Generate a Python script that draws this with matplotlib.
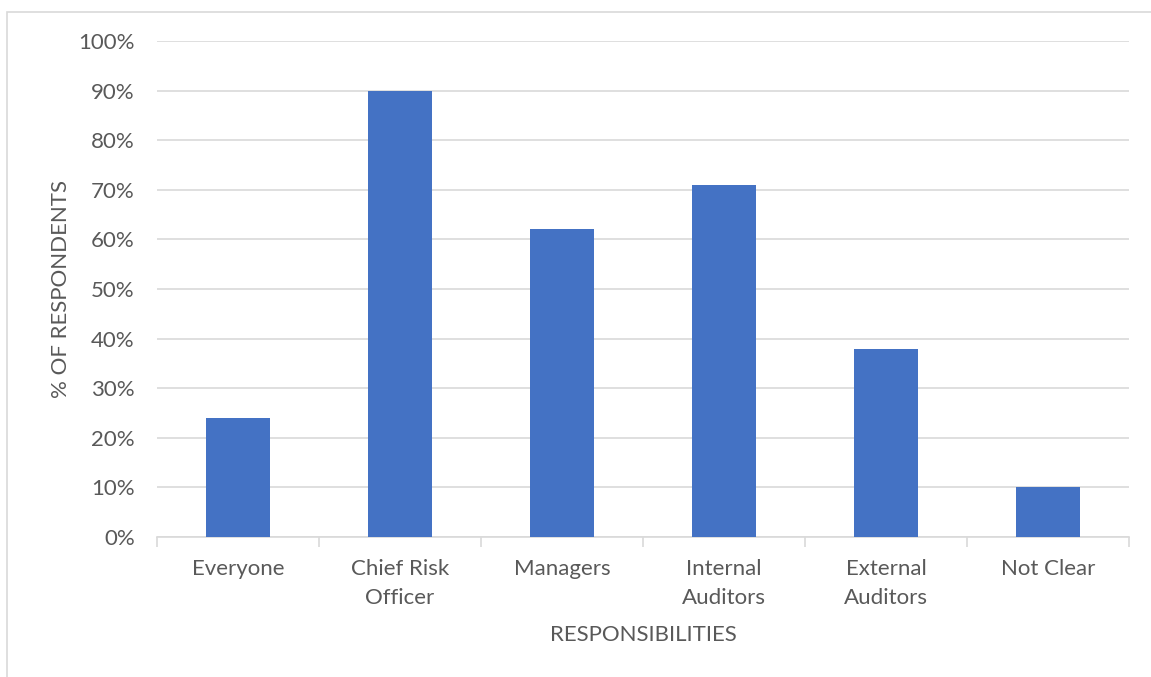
import matplotlib.pyplot as plt
from matplotlib.patches import Rectangle
from matplotlib.ticker import PercentFormatter

# Who holds responsibility for risk management
categories = ["Everyone", "Chief Risk\nOfficer", "Managers", "Internal\nAuditors", "External\nAuditors", "Not Clear"]
percent = [24, 90, 62, 71, 38, 10]

plt.rcParams["font.family"] = ["Lato", "DejaVu Sans"]
text_color = "#595959"
line_color = "#d9d9d9"

fig = plt.figure(figsize=(11.51, 6.77), dpi=100)
ax = fig.add_axes([0.1364, 0.2068, 0.8445, 0.7326])

# outer chart frame
fig.patches.append(Rectangle((7 / 1151, -0.1), 1.2, 1 - 12 / 677 + 0.1, transform=fig.transFigure,
                             fill=False, edgecolor=line_color, linewidth=1.2))

x = range(len(categories))
ax.bar(x, percent, width=0.4, color="#4472c4", zorder=3)

ax.set_xlim(-0.5, len(categories) - 0.5)
ax.set_ylim(0, 100)
ax.set_yticks(range(0, 101, 10))
ax.yaxis.set_major_formatter(PercentFormatter(decimals=0))
ax.grid(axis="y", color=line_color, linewidth=1.2, zorder=0)

ax.set_xticks(list(x))
ax.set_xticklabels(categories, linespacing=1.55)
ax.set_xticks([i - 0.5 for i in range(len(categories) + 1)], minor=True)
ax.tick_params(axis="x", which="major", length=0, pad=16, labelsize=16, labelcolor=text_color)
ax.tick_params(axis="x", which="minor", length=7, color=line_color, width=1.2)
ax.tick_params(axis="y", length=0, pad=16, labelsize=16, labelcolor=text_color)

for side in ["top", "right", "left"]:
    ax.spines[side].set_visible(False)
ax.spines["bottom"].set_color(line_color)
ax.spines["bottom"].set_linewidth(1.2)

ax.set_xlabel("RESPONSIBILITIES", fontsize=16, color=text_color, labelpad=12)
ax.set_ylabel("% OF RESPONDENTS", fontsize=16, color=text_color, labelpad=5)

fig.savefig("out.png", dpi=100)
